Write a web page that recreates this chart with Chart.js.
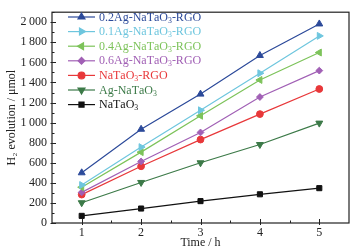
<!DOCTYPE html>
<html lang="en">
  <head>
    <meta charset="UTF-8" />
    <title>H2 evolution</title>
    <script src="https://cdn.jsdelivr.net/npm/chart.js"></script>
    <style>
      html, body { margin: 0; padding: 0; background: #fff; }
      #wrap { width: 361px; height: 250px; }
    </style>
  </head>
  <body>
    <div id="wrap"><canvas id="myChart"></canvas></div>
  </body>
  <script>
    const hours = [1, 2, 3, 4, 5];
    const labels = ["0.2Ag-NaTaO₃-RGO", "0.1Ag-NaTaO₃-RGO", "0.4Ag-NaTaO₃-RGO", "0.6Ag-NaTaO₃-RGO", "NaTaO₃-RGO", "Ag-NaTaO₃", "NaTaO₃"];
    const ag02 = [500, 934, 1284, 1669, 1983];
    const ag01 = [378, 756, 1123, 1492, 1864];
    const ag04 = [356, 706, 1068, 1425, 1698];
    const ag06 = [305, 613, 902, 1255, 1518];
    const rgo = [283, 565, 831, 1085, 1335];
    const agNt = [202, 404, 600, 782, 995];
    const nt = [71, 144, 218, 286, 347];
    const yTicks = [0, 200, 400, 600, 800, 1000, 1200, 1400, 1600, 1800, 2000];

    const serif = "'Liberation Serif', 'DejaVu Serif', serif";
    const colors = ["#2c4a9a", "#6ec6de", "#7dc35a", "#a160b5", "#e8383a", "#3c7a48", "#111111"];
    const styles = [
      ["triangle", 0], ["triangle", 90], ["triangle", -90], ["rectRot", 0],
      ["circle", 0], ["triangle", 180], ["rect", 0],
    ];
    const series = [ag02, ag01, ag04, ag06, rgo, agNt, nt];

    const datasets = series.map((vals, i) => ({
      label: labels[i],
      data: vals.map((v, k) => ({ x: hours[k], y: v })),
      borderColor: colors[i],
      backgroundColor: colors[i],
      borderWidth: 1.2,
      pointStyle: styles[i][0],
      rotation: styles[i][1],
      pointRadius: styles[i][0] == "rect" ? 3.6 : styles[i][0] == "triangle" ? 4 : 3.4,
      pointBorderWidth: 1,
      tension: 0,
    }));

    // draw text with unicode subscripts lowered & smaller
    const subs = "₀₁₂₃₄₅₆₇₈₉";
    function drawRich(ctx, text, x, y, size) {
      for (const ch of text) {
        const si = subs.indexOf(ch);
        if (si >= 0) {
          ctx.font = (size * 0.65) + "px " + serif;
          ctx.fillText(String(si), x, y + size * 0.25);
          x += ctx.measureText(String(si)).width;
        } else {
          ctx.font = size + "px " + serif;
          ctx.fillText(ch, x, y);
          x += ctx.measureText(ch).width;
        }
      }
    }

    const framePlugin = {
      id: "frame",
      afterDraw(chart) {
        const { ctx, chartArea: a, scales } = chart;
        ctx.save();
        ctx.strokeStyle = "#222";
        ctx.lineWidth = 1.2;
        ctx.strokeRect(a.left, a.top, a.right - a.left, a.bottom - a.top);
        ctx.lineWidth = 1;
        // inward ticks
        for (let v = 0; v <= 2100; v += 100) {
          const y = Math.round(scales.y.getPixelForValue(v)) + 0.5;
          const len = v % 200 == 0 ? 4 : 2.5;
          ctx.beginPath();
          ctx.moveTo(a.left - (v % 200 == 0 ? 1.5 : 0), y);
          ctx.lineTo(a.left + len, y);
          ctx.stroke();
        }
        for (let v = 1; v <= 5; v += 0.5) {
          const x = Math.round(scales.x.getPixelForValue(v)) + 0.5;
          const major = v % 1 == 0;
          ctx.beginPath();
          ctx.moveTo(x, a.bottom + (major ? 2 : 0));
          ctx.lineTo(x, a.bottom - (major ? 4 : 2.5));
          ctx.stroke();
        }
        // legend
        const lx0 = 68, lx1 = 95, top = 17, gap = 14.6;
        chart.data.datasets.forEach((ds, i) => {
          const y = top + i * gap;
          ctx.strokeStyle = ds.borderColor;
          ctx.lineWidth = 1.2;
          ctx.beginPath();
          ctx.moveTo(lx0, y);
          ctx.lineTo(lx1, y);
          ctx.stroke();
          ctx.fillStyle = ds.backgroundColor;
          Chart.helpers.drawPoint(ctx, {
            pointStyle: ds.pointStyle, rotation: ds.rotation,
            radius: ds.pointRadius, borderWidth: 1,
          }, (lx0 + lx1) / 2, y);
          ctx.textBaseline = "middle";
          ctx.fillStyle = ds.borderColor;
          drawRich(ctx, ds.label, 99, y + 0.5, 12);
        });
        ctx.restore();
      },
    };

    const tickFont = { family: serif, size: 12 };

    new Chart(document.getElementById("myChart"), {
      type: "line",
      data: { datasets },
      plugins: [framePlugin],
      options: {
        responsive: true,
        maintainAspectRatio: false,
        animation: false,
        layout: { padding: { top: 4, right: 12, left: 0, bottom: 0 } },
        plugins: { legend: { display: false }, tooltip: { enabled: false } },
        scales: {
          x: {
            type: "linear",
            min: 0.5,
            max: 5.5,
            grid: { display: false, drawTicks: false },
            border: { display: false },
            afterBuildTicks: (s) => { s.ticks = hours.map((v) => ({ value: v })); },
            afterFit: (s) => { s.height = 27; },
            ticks: { font: tickFont, color: "#222", padding: 3, maxRotation: 0, callback: (v) => v },
            title: { display: true, text: "Time / h", font: tickFont, color: "#222", padding: { top: 0, bottom: 0 } },
          },
          y: {
            min: 0,
            max: 2100,
            grid: { display: false, drawTicks: false },
            border: { display: false },
            afterBuildTicks: (s) => { s.ticks = yTicks.map((v) => ({ value: v })); },
            afterFit: (s) => { s.width = 52; },
            ticks: {
              font: tickFont, color: "#222", padding: 5,
              callback: (v) => (v >= 1000 ? Math.floor(v / 1000) + "\u2009" + String(v % 1000).padStart(3, "0") : String(v)),
            },
            title: { display: true, text: "H₂ evolution / μmol", font: tickFont, color: "#222", padding: { top: 5, bottom: 0 } },
          },
        },
      },
    });
  </script>
</html>
